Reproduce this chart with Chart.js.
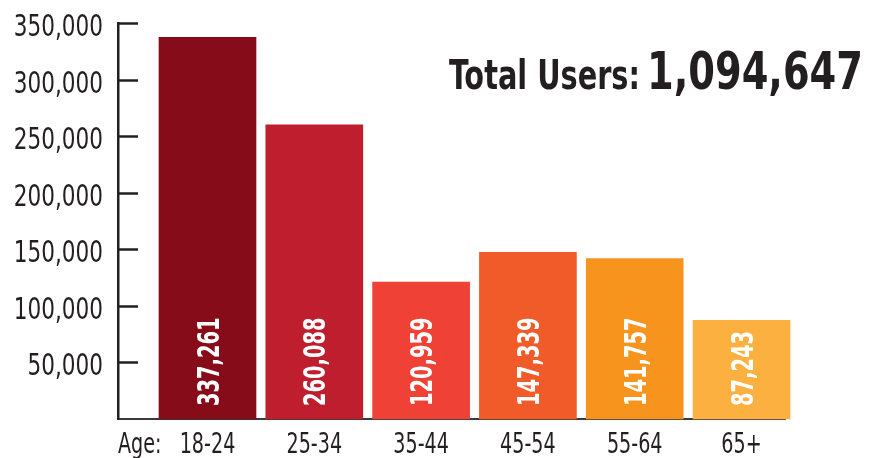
<!DOCTYPE html>
<html lang="en">
<head>
    <meta charset="UTF-8">
    <title>Users by Age</title>
    <style>
        html, body {
            margin: 0;
            padding: 0;
            background: #fff;
        }

        #chart-box {
            width: 872px;
            height: 458px;
            position: relative;
        }
    </style>
</head>
<body>
    <div id="chart-box">
        <canvas id="age-chart"></canvas>
    </div>

    <script src="https://cdn.jsdelivr.net/npm/chart.js"></script>
    <script>
        // data
        const ageGroups = ['18-24', '25-34', '35-44', '45-54', '55-64', '65+'];
        const userCounts = [337261, 260088, 120959, 147339, 141757, 87243];
        const barColors = ['#870c19', '#be1e2d', '#ef4136', '#f15a29', '#f7941d', '#fbb040'];
        const yTicks = [50000, 100000, 150000, 200000, 250000, 300000, 350000];
        const ageLabel = 'Age:';

        // no condensed face like the original, so squeeze a condensed one a bit more
        const FONT = "'DejaVu Sans Condensed', 'Liberation Sans Narrow', sans-serif";
        const INK = '#231f20';

        const totalUsers = userCounts.reduce((a, b) => a + b, 0);
        const fmt = n => n.toLocaleString('en-US');

        function drawText(ctx, text, x, y, size, bold, align, sx) {
            ctx.save();
            ctx.font = (bold ? 'bold ' : '') + size + 'px ' + FONT;
            ctx.textAlign = align;
            ctx.textBaseline = 'alphabetic';
            ctx.translate(x, y);
            ctx.scale(sx, 1);
            ctx.fillText(text, 0, 0);
            const w = ctx.measureText(text).width * sx;
            ctx.restore();
            return w;
        }

        // tick marks and labels for both axes
        const axisText = {
            id: 'axisText',
            afterDraw(chart) {
                const ctx = chart.ctx;
                const x = chart.scales.x;
                const y = chart.scales.y;
                const left = chart.chartArea.left;
                const bottom = chart.chartArea.bottom;
                ctx.save();
                ctx.strokeStyle = INK;
                ctx.fillStyle = INK;
                ctx.lineWidth = 2.5;
                yTicks.forEach(v => {
                    const py = Math.round(y.getPixelForValue(v)) + 0.5;
                    ctx.beginPath();
                    ctx.moveTo(left, py);
                    ctx.lineTo(left + 20, py);
                    ctx.stroke();
                    drawText(ctx, fmt(v), left - 15, py + 12, 30, false, 'right', 0.8);
                });
                drawText(ctx, ageLabel, left, bottom + 34, 28, false, 'left', 0.76);
                ageGroups.forEach((g, i) => {
                    drawText(ctx, g, x.getPixelForValue(i), bottom + 34, 28, false, 'center', 0.76);
                });
                ctx.restore();
            }
        };

        // rotated value labels inside the bars
        const barValues = {
            id: 'barValues',
            afterDatasetsDraw(chart) {
                const ctx = chart.ctx;
                const meta = chart.getDatasetMeta(0);
                ctx.save();
                ctx.fillStyle = '#fff';
                meta.data.forEach((bar, i) => {
                    ctx.save();
                    ctx.translate(bar.x + 11, bar.base - 13);
                    ctx.rotate(-Math.PI / 2);
                    drawText(ctx, fmt(userCounts[i]), 0, 0, 30, true, 'left', 0.72);
                    ctx.restore();
                });
                ctx.restore();
            }
        };

        // "Total Users: ..." in the top right
        const totalText = {
            id: 'totalText',
            afterDraw(chart) {
                const ctx = chart.ctx;
                const right = 863;
                const baseY = 89;
                ctx.save();
                ctx.fillStyle = INK;
                const w = drawText(ctx, fmt(totalUsers), right, baseY, 52, true, 'right', 0.82);
                drawText(ctx, 'Total Users:', right - w - 7, baseY, 41, true, 'right', 0.78);
                ctx.restore();
            }
        };

        const ctx = document.getElementById('age-chart').getContext('2d');

        new Chart(ctx, {
            type: 'bar',
            data: {
                datasets: [{
                    data: userCounts.map((v, i) => ({ x: i, y: v })),
                    backgroundColor: barColors,
                    barThickness: 97,
                    clip: false
                }]
            },
            options: {
                responsive: true,
                maintainAspectRatio: false,
                animation: false,
                layout: {
                    padding: { top: 23, right: 87, left: 0, bottom: 39 }
                },
                plugins: {
                    legend: { display: false },
                    tooltip: { enabled: false }
                },
                scales: {
                    x: {
                        type: 'linear',
                        offset: false,
                        min: -0.838,
                        max: 5.407,
                        grid: { display: false, drawTicks: false, offset: false },
                        border: { display: true, color: '#3a3a3a', width: 2 },
                        ticks: { display: false }
                    },
                    y: {
                        min: 0,
                        max: 350000,
                        afterFit: axis => {
                            axis.width = 118;
                        },
                        grid: { display: false, drawTicks: false },
                        border: { display: true, color: INK, width: 2.5 },
                        ticks: { display: false }
                    }
                }
            },
            plugins: [axisText, barValues, totalText]
        });
    </script>
</body>
</html>
